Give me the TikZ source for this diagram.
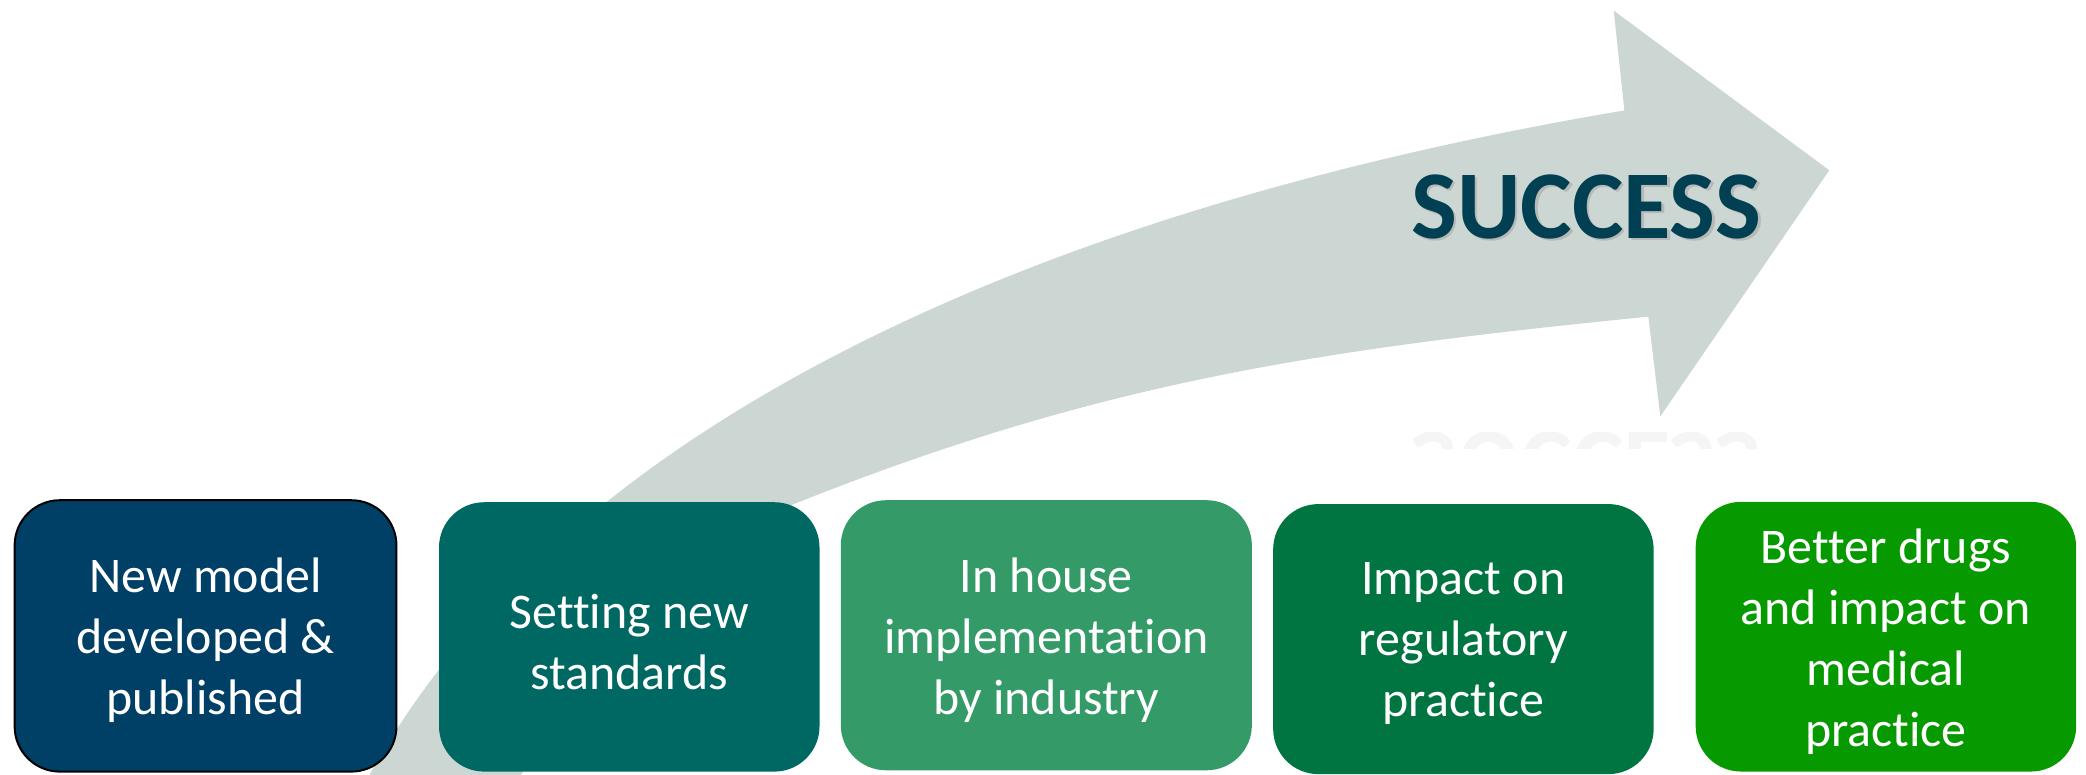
\documentclass[tikz,border=0pt]{standalone}
\usepackage{fontspec}
\setmainfont{Carlito}[Ligatures=NoCommon]
\definecolor{arrowgray}{RGB}{204,214,211}
\definecolor{succ}{RGB}{0,64,82}
\definecolor{cA}{RGB}{0,64,102}
\definecolor{cB}{RGB}{0,104,99}
\definecolor{cC}{RGB}{52,154,104}
\definecolor{cD}{RGB}{0,117,66}
\definecolor{cE}{RGB}{7,153,0}
\tikzset{
  stage/.style={rectangle, rounded corners=34pt, inner sep=0pt},
  stagetext/.style={inner sep=0pt, align=center, text=white,
    font=\fontsize{37.5}{45.8}\selectfont},
  bigword/.style={anchor=base, inner sep=0pt, font=\fontsize{73}{73}\selectfont\bfseries}
}
\begin{document}
\begin{tikzpicture}[x=1pt,y=1pt]
\useasboundingbox (0,0) rectangle (1568,582);
% big curved arrow
\begin{scope}
\clip (0,0) rectangle (1568,582);
\fill[arrowgray] (262,-28) -- (278,0)
  .. controls (423.5,262.5) and (777,424) .. (1221,499)
  -- (1213,574) -- (1375,454) -- (1248,269) -- (1239,344)
  .. controls (990,319) and (826,295) .. (594,202)
  .. controls (524,174) and (440,82) .. (381,-18) -- cycle;
\end{scope}
% faint reflection
\begin{scope}
\clip (1040,245) rectangle (1340,257);
\node[bigword, text=black!4] (refl) at (1192.5,257) {\scalebox{1}[-1]{SUCCESS}};
\end{scope}
% SUCCESS with shadow
\node[bigword, text=black!35, opacity=0.6] (succshadow) at (1194.5,401) {SUCCESS};
\node[bigword, text=succ] (success) at (1192.5,403) {SUCCESS};
% stage boxes
\node[stage, fill=cA, draw=black, line width=1.5pt, minimum width=287pt, minimum height=204pt] (b1) at (154.5,104) {};
\node[stage, fill=cB, minimum width=286pt, minimum height=202.5pt] (b2) at (473,103.25) {};
\node[stage, fill=cC, minimum width=309pt, minimum height=203pt] (b3) at (786.5,104.5) {};
\node[stage, fill=cD, minimum width=286pt, minimum height=203pt] (b4) at (1100,101.6) {};
\node[stage, fill=cE, minimum width=286pt, minimum height=202.7pt] (b5) at (1417.6,103.4) {};
% stage texts
\node[stagetext] (t1) at ([yshift=-3.5pt]b1.center) {New model\\developed \&\\published};
\node[stagetext] (t2) at ([yshift=-3.5pt]b2.center) {Setting new\\standards};
\node[stagetext] (t3) at ([yshift=-3.5pt]b3.center) {In house\\implementation\\by industry};
\node[stagetext] (t4) at ([yshift=-3.5pt]b4.center) {Impact on\\regulatory\\practice};
\node[stagetext] (t5) at ([yshift=-3.5pt]b5.center) {Better drugs\\and impact on\\medical\\practice};
\end{tikzpicture}
\end{document}
